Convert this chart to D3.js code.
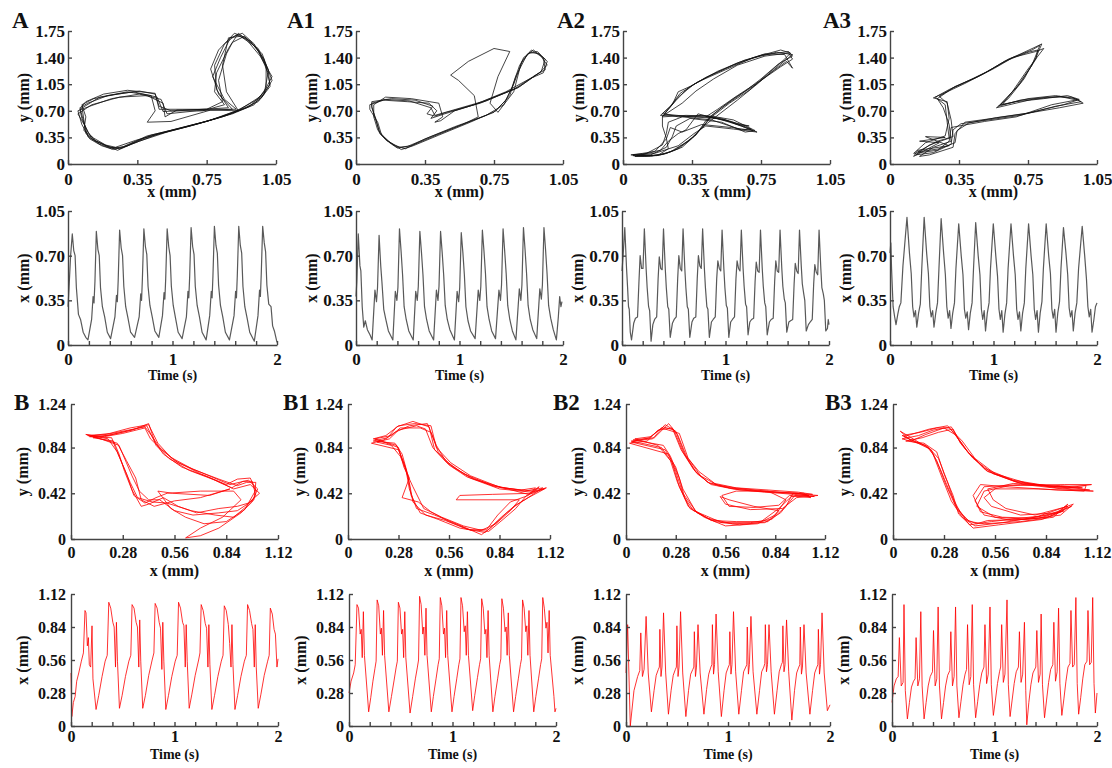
<!DOCTYPE html>
<html>
<head>
<meta charset="utf-8">
<script src="https://cdn.jsdelivr.net/npm/d3@7"></script>
<style>
  body { margin: 0; background: #fff; }
  svg text { font-family: "Liberation Serif", "Times New Roman", serif; font-weight: bold; fill: #111; }
  .axis path, .axis line { stroke: #444; stroke-width: 1.4; }
</style>
</head>
<body>
<svg id="fig" width="1112" height="768"></svg>
<script>
// ---- tick values and labels ----
const aTrajXTicks = [0, 0.35, 0.70, 1.05];
const aTrajXLabels = ["0", "0.35", "0.75", "1.05"];
const aTrajYTicks = [0, 0.35, 0.70, 1.05, 1.40, 1.75];
const aTrajYLabels = ["0", "0.35", "0.70", "1.05", "1.40", "1.75"];
const aTimeYTicks = [0, 0.35, 0.70, 1.05];
const aTimeYLabels = ["0", "0.35", "0.70", "1.05"];
const bTrajXTicks = [0, 0.28, 0.56, 0.84, 1.12];
const bTrajXLabels = ["0", "0.28", "0.56", "0.84", "1.12"];
const bTrajYTicks = [0, 0.42, 0.84, 1.24];
const bTrajYLabels = ["0", "0.42", "0.84", "1.24"];
const bTimeYTicks = [0, 0.28, 0.56, 0.84, 1.12];
const bTimeYLabels = ["0", "0.28", "0.56", "0.84", "1.12"];
const timeTicks = [0, 0.2, 0.4, 0.6, 0.8, 1, 1.2, 1.4, 1.6, 1.8, 2];
const timeLabels = ["0", "", "", "", "", "1", "", "", "", "", "2"];

// ---- trajectories (x mm, y mm), a few cycles each ----
const trajA = [
  [[0.06,0.74],[0.08,0.55],[0.10,0.36],[0.16,0.26],[0.22,0.20],[0.28,0.23],[0.40,0.37],[0.55,0.46],[0.70,0.56],[0.84,0.68],[0.96,0.82],[1.02,1.05],[0.99,1.38],[0.92,1.62],[0.85,1.70],[0.79,1.58],[0.74,1.30],[0.75,0.98],[0.81,0.74],[0.62,0.71],[0.48,0.69],[0.45,0.88],[0.33,0.95],[0.20,0.90],[0.10,0.80],[0.06,0.74]],
  [[0.05,0.70],[0.07,0.52],[0.11,0.33],[0.17,0.24],[0.23,0.19],[0.30,0.24],[0.42,0.38],[0.56,0.47],[0.71,0.57],[0.85,0.70],[0.98,0.88],[1.03,1.10],[0.98,1.45],[0.90,1.66],[0.84,1.72],[0.76,1.50],[0.72,1.25],[0.76,0.92],[0.83,0.72],[0.65,0.70],[0.50,0.66],[0.47,0.85],[0.36,0.92],[0.22,0.86],[0.11,0.76],[0.05,0.70]],
  [[0.07,0.76],[0.08,0.58],[0.09,0.40],[0.14,0.30],[0.21,0.22],[0.27,0.21],[0.38,0.34],[0.53,0.45],[0.68,0.55],[0.83,0.66],[0.94,0.78],[1.00,1.00],[1.00,1.30],[0.94,1.58],[0.88,1.72],[0.82,1.66],[0.77,1.40],[0.73,1.15],[0.79,0.85],[0.85,0.72],[0.58,0.72],[0.46,0.72],[0.44,0.93],[0.30,0.97],[0.18,0.92],[0.09,0.82],[0.07,0.76]],
  [[0.05,0.66],[0.09,0.48],[0.12,0.33],[0.18,0.26],[0.25,0.18],[0.32,0.26],[0.45,0.39],[0.60,0.49],[0.75,0.60],[0.87,0.72],[0.99,0.92],[1.01,1.20],[0.96,1.50],[0.89,1.68],[0.83,1.60],[0.80,1.45],[0.76,1.10],[0.78,0.82],[0.70,0.72],[0.55,0.71],[0.49,0.62],[0.48,0.80],[0.40,0.90],[0.26,0.88],[0.12,0.78],[0.05,0.66]],
  [[0.06,0.72],[0.07,0.60],[0.10,0.42],[0.14,0.30],[0.20,0.23],[0.26,0.20],[0.36,0.30],[0.50,0.42],[0.66,0.53],[0.80,0.64],[0.90,0.74],[0.97,0.85],[1.02,1.02],[1.01,1.25],[0.96,1.52],[0.87,1.68],[0.81,1.66],[0.78,1.30],[0.80,0.95],[0.86,0.70],[0.72,0.71],[0.52,0.56],[0.40,0.55],[0.44,0.70],[0.42,0.90],[0.30,0.95],[0.16,0.88],[0.06,0.72]],
  [[0.07,0.78],[0.09,0.62],[0.08,0.44],[0.13,0.34],[0.19,0.25],[0.24,0.22],[0.34,0.31],[0.48,0.41],[0.63,0.51],[0.78,0.62],[0.92,0.76],[0.99,0.95],[1.03,1.15],[0.97,1.42],[0.90,1.64],[0.86,1.72],[0.81,1.52],[0.75,1.20],[0.74,0.95],[0.79,0.78],[0.68,0.70],[0.52,0.70],[0.46,0.76],[0.44,0.92],[0.36,0.96],[0.25,0.92],[0.13,0.86],[0.07,0.78]]
];
const trajA1 = [
  [[0.08,0.76],[0.10,0.58],[0.12,0.42],[0.17,0.28],[0.21,0.21],[0.26,0.23],[0.38,0.36],[0.54,0.52],[0.70,0.68],[0.76,0.84],[0.80,1.05],[0.85,1.40],[0.90,1.50],[0.95,1.40],[0.96,1.24],[0.91,1.17],[0.80,0.98],[0.63,0.80],[0.46,0.68],[0.40,0.63],[0.36,0.66],[0.39,0.76],[0.30,0.84],[0.18,0.86],[0.08,0.82],[0.08,0.76]],
  [[0.07,0.72],[0.11,0.55],[0.13,0.38],[0.19,0.25],[0.23,0.19],[0.29,0.24],[0.42,0.38],[0.58,0.55],[0.71,0.70],[0.78,0.90],[0.81,1.15],[0.87,1.45],[0.92,1.48],[0.97,1.35],[0.95,1.20],[0.88,1.12],[0.76,0.95],[0.60,0.78],[0.45,0.66],[0.38,0.60],[0.41,0.70],[0.37,0.80],[0.26,0.82],[0.14,0.84],[0.07,0.78],[0.07,0.72]],
  [[0.09,0.78],[0.09,0.62],[0.11,0.45],[0.15,0.32],[0.20,0.24],[0.25,0.20],[0.35,0.33],[0.50,0.49],[0.66,0.64],[0.75,0.78],[0.79,1.00],[0.83,1.30],[0.88,1.47],[0.93,1.45],[0.97,1.30],[0.93,1.20],[0.83,1.02],[0.66,0.83],[0.50,0.70],[0.43,0.57],[0.40,0.55],[0.44,0.62],[0.42,0.80],[0.28,0.86],[0.15,0.88],[0.09,0.78]],
  [[0.08,0.74],[0.10,0.60],[0.12,0.40],[0.16,0.30],[0.22,0.22],[0.28,0.24],[0.40,0.37],[0.55,0.53],[0.62,0.62],[0.60,0.90],[0.52,1.10],[0.48,1.17],[0.57,1.35],[0.70,1.52],[0.78,1.48],[0.72,1.15],[0.68,0.80],[0.72,0.68],[0.80,0.95],[0.84,1.35],[0.89,1.50],[0.96,1.38],[0.94,1.22],[0.82,1.00],[0.64,0.82],[0.48,0.70],[0.40,0.64],[0.38,0.74],[0.27,0.83],[0.15,0.85],[0.08,0.80],[0.08,0.74]]
];
const trajA2 = [
  [[0.05,0.12],[0.12,0.11],[0.19,0.12],[0.26,0.18],[0.33,0.30],[0.38,0.42],[0.44,0.60],[0.54,0.80],[0.64,0.97],[0.74,1.20],[0.82,1.38],[0.85,1.46],[0.80,1.50],[0.66,1.40],[0.52,1.24],[0.38,1.08],[0.29,0.93],[0.24,0.76],[0.19,0.64],[0.30,0.63],[0.44,0.62],[0.55,0.56],[0.65,0.46],[0.60,0.45],[0.45,0.58],[0.30,0.62],[0.23,0.55],[0.22,0.40],[0.20,0.25],[0.12,0.14],[0.05,0.12]],
  [[0.06,0.10],[0.14,0.10],[0.21,0.13],[0.28,0.20],[0.35,0.34],[0.40,0.48],[0.47,0.62],[0.58,0.84],[0.68,1.05],[0.77,1.25],[0.84,1.40],[0.86,1.44],[0.78,1.47],[0.62,1.37],[0.48,1.22],[0.36,1.05],[0.28,0.88],[0.23,0.72],[0.20,0.62],[0.32,0.64],[0.45,0.63],[0.56,0.58],[0.67,0.44],[0.62,0.42],[0.50,0.55],[0.34,0.60],[0.27,0.50],[0.25,0.36],[0.22,0.22],[0.14,0.12],[0.06,0.10]],
  [[0.04,0.12],[0.10,0.12],[0.17,0.11],[0.24,0.16],[0.31,0.27],[0.37,0.38],[0.42,0.57],[0.50,0.74],[0.60,0.92],[0.70,1.12],[0.79,1.32],[0.86,1.42],[0.84,1.48],[0.70,1.43],[0.56,1.30],[0.42,1.14],[0.33,1.00],[0.27,0.84],[0.21,0.66],[0.28,0.62],[0.40,0.64],[0.50,0.60],[0.58,0.52],[0.64,0.50],[0.50,0.58],[0.38,0.66],[0.32,0.45],[0.28,0.40],[0.23,0.30],[0.19,0.18],[0.10,0.14],[0.04,0.12]],
  [[0.07,0.11],[0.15,0.11],[0.22,0.14],[0.30,0.22],[0.36,0.36],[0.41,0.50],[0.45,0.64],[0.56,0.86],[0.66,1.02],[0.76,1.22],[0.83,1.35],[0.86,1.26],[0.82,1.44],[0.72,1.45],[0.58,1.33],[0.44,1.16],[0.34,1.02],[0.28,0.95],[0.25,0.78],[0.20,0.66],[0.35,0.62],[0.48,0.60],[0.60,0.50],[0.66,0.44],[0.55,0.48],[0.40,0.52],[0.30,0.42],[0.24,0.48],[0.22,0.33],[0.16,0.16],[0.07,0.11]],
  [[0.05,0.11],[0.11,0.10],[0.18,0.12],[0.23,0.20],[0.22,0.34],[0.20,0.50],[0.20,0.63],[0.30,0.80],[0.37,0.96],[0.46,1.12],[0.58,1.30],[0.72,1.42],[0.84,1.46],[0.86,1.38],[0.80,1.28],[0.70,1.10],[0.58,0.90],[0.48,0.72],[0.42,0.62],[0.52,0.58],[0.62,0.48],[0.68,0.42],[0.56,0.46],[0.42,0.50],[0.36,0.40],[0.28,0.24],[0.16,0.14],[0.05,0.11]]
];
const trajA3 = [
  [[0.13,0.12],[0.20,0.25],[0.30,0.34],[0.29,0.55],[0.28,0.78],[0.23,0.88],[0.30,0.98],[0.40,1.10],[0.49,1.21],[0.60,1.38],[0.72,1.50],[0.76,1.56],[0.72,1.30],[0.64,1.00],[0.55,0.76],[0.66,0.84],[0.80,0.88],[0.92,0.88],[0.97,0.82],[0.84,0.76],[0.66,0.64],[0.50,0.58],[0.36,0.53],[0.32,0.45],[0.31,0.26],[0.22,0.15],[0.13,0.12]],
  [[0.15,0.10],[0.22,0.22],[0.31,0.30],[0.30,0.52],[0.27,0.74],[0.24,0.86],[0.32,1.00],[0.42,1.12],[0.51,1.24],[0.62,1.40],[0.74,1.48],[0.78,1.52],[0.70,1.25],[0.62,0.95],[0.57,0.78],[0.70,0.86],[0.84,0.90],[0.94,0.86],[0.98,0.80],[0.86,0.74],[0.68,0.66],[0.52,0.60],[0.38,0.55],[0.33,0.40],[0.32,0.22],[0.20,0.12],[0.15,0.10]],
  [[0.12,0.14],[0.18,0.28],[0.28,0.37],[0.30,0.60],[0.29,0.82],[0.22,0.87],[0.29,0.95],[0.38,1.06],[0.47,1.18],[0.58,1.35],[0.70,1.47],[0.75,1.50],[0.74,1.38],[0.66,1.06],[0.56,0.78],[0.64,0.82],[0.78,0.86],[0.90,0.90],[0.96,0.85],[0.82,0.78],[0.64,0.62],[0.48,0.56],[0.35,0.50],[0.31,0.48],[0.30,0.30],[0.24,0.18],[0.12,0.14]],
  [[0.14,0.16],[0.24,0.30],[0.32,0.36],[0.31,0.58],[0.29,0.80],[0.25,0.89],[0.33,1.02],[0.44,1.14],[0.53,1.26],[0.63,1.41],[0.73,1.53],[0.77,1.58],[0.74,1.40],[0.68,1.12],[0.60,0.86],[0.54,0.74],[0.72,0.85],[0.86,0.89],[0.95,0.84],[0.88,0.78],[0.70,0.67],[0.54,0.61],[0.40,0.54],[0.34,0.44],[0.33,0.28],[0.25,0.20],[0.14,0.16]],
  [[0.12,0.10],[0.25,0.28],[0.15,0.30],[0.28,0.35],[0.18,0.36],[0.30,0.24],[0.14,0.18],[0.12,0.10]]
];
const trajB = [
  [[0.10,0.94],[0.20,0.95],[0.30,0.99],[0.41,1.04],[0.45,0.90],[0.50,0.78],[0.60,0.66],[0.74,0.57],[0.87,0.47],[0.93,0.53],[0.98,0.53],[1.00,0.40],[0.95,0.30],[0.88,0.20],[0.78,0.22],[0.65,0.26],[0.52,0.33],[0.44,0.34],[0.36,0.38],[0.32,0.52],[0.28,0.68],[0.24,0.84],[0.22,0.93],[0.10,0.94]],
  [[0.08,0.96],[0.18,0.94],[0.28,0.97],[0.40,1.02],[0.43,0.92],[0.49,0.82],[0.58,0.70],[0.72,0.60],[0.86,0.50],[0.96,0.54],[1.01,0.46],[0.98,0.34],[0.92,0.24],[0.80,0.10],[0.70,0.03],[0.62,0.01],[0.70,0.10],[0.82,0.20],[0.92,0.36],[0.88,0.44],[0.70,0.44],[0.52,0.42],[0.46,0.38],[0.40,0.33],[0.34,0.40],[0.30,0.60],[0.25,0.80],[0.20,0.92],[0.08,0.96]],
  [[0.12,0.93],[0.22,0.96],[0.33,1.00],[0.42,1.06],[0.46,0.86],[0.53,0.74],[0.64,0.63],[0.78,0.54],[0.88,0.46],[0.97,0.50],[1.02,0.42],[0.96,0.33],[0.90,0.30],[0.80,0.28],[0.68,0.24],[0.58,0.30],[0.50,0.38],[0.42,0.32],[0.38,0.30],[0.33,0.45],[0.29,0.62],[0.26,0.78],[0.23,0.90],[0.12,0.93]],
  [[0.09,0.95],[0.19,0.96],[0.31,1.00],[0.40,1.03],[0.44,0.94],[0.48,0.84],[0.56,0.72],[0.70,0.60],[0.84,0.50],[0.90,0.55],[0.97,0.56],[1.00,0.45],[0.94,0.27],[0.84,0.16],[0.72,0.14],[0.62,0.20],[0.54,0.28],[0.47,0.44],[0.55,0.42],[0.75,0.40],[0.86,0.46],[0.70,0.38],[0.56,0.35],[0.45,0.30],[0.38,0.36],[0.35,0.56],[0.30,0.72],[0.25,0.88],[0.09,0.95]],
  [[0.11,0.95],[0.21,0.97],[0.32,1.02],[0.42,1.05],[0.47,0.88],[0.54,0.75],[0.66,0.64],[0.80,0.55],[0.90,0.49],[0.95,0.52],[1.00,0.52],[0.99,0.36],[0.90,0.26],[0.80,0.24],[0.66,0.22],[0.56,0.26],[0.48,0.36],[0.42,0.36],[0.37,0.44],[0.33,0.58],[0.30,0.70],[0.26,0.86],[0.11,0.95]]
];
const trajB1 = [
  [[0.14,0.90],[0.22,0.93],[0.27,1.03],[0.36,1.08],[0.45,1.03],[0.48,0.82],[0.56,0.68],[0.66,0.57],[0.84,0.46],[1.02,0.43],[1.09,0.46],[1.00,0.38],[0.92,0.30],[0.85,0.20],[0.76,0.06],[0.62,0.10],[0.50,0.18],[0.40,0.24],[0.35,0.40],[0.33,0.60],[0.30,0.78],[0.26,0.88],[0.14,0.90]],
  [[0.15,0.92],[0.24,0.95],[0.29,1.02],[0.40,1.02],[0.46,0.98],[0.50,0.80],[0.58,0.66],[0.70,0.55],[0.86,0.47],[1.00,0.41],[1.06,0.48],[1.02,0.42],[0.80,0.41],[0.62,0.40],[0.60,0.36],[0.95,0.36],[0.90,0.26],[0.82,0.14],[0.74,0.08],[0.64,0.12],[0.52,0.20],[0.42,0.28],[0.36,0.48],[0.31,0.66],[0.28,0.84],[0.15,0.92]],
  [[0.13,0.88],[0.20,0.91],[0.26,0.98],[0.34,1.04],[0.44,1.06],[0.49,0.86],[0.54,0.72],[0.64,0.60],[0.80,0.49],[0.98,0.44],[1.08,0.47],[0.98,0.36],[0.94,0.32],[0.88,0.24],[0.79,0.10],[0.74,0.04],[0.60,0.14],[0.48,0.22],[0.38,0.28],[0.34,0.46],[0.32,0.65],[0.28,0.82],[0.13,0.88]],
  [[0.16,0.89],[0.23,0.92],[0.28,1.00],[0.38,1.04],[0.43,1.01],[0.47,0.84],[0.55,0.70],[0.68,0.56],[0.82,0.48],[0.96,0.45],[1.04,0.47],[1.00,0.40],[0.90,0.34],[0.83,0.22],[0.77,0.09],[0.68,0.08],[0.56,0.16],[0.46,0.25],[0.39,0.34],[0.30,0.38],[0.34,0.56],[0.29,0.76],[0.24,0.86],[0.16,0.89]],
  [[0.14,0.92],[0.21,0.95],[0.28,1.04],[0.37,1.06],[0.46,1.04],[0.49,0.84],[0.57,0.70],[0.68,0.58],[0.85,0.47],[1.03,0.44],[1.10,0.47],[0.99,0.40],[0.93,0.28],[0.86,0.18],[0.78,0.07],[0.66,0.09],[0.54,0.17],[0.43,0.22],[0.36,0.34],[0.34,0.52],[0.31,0.70],[0.27,0.86],[0.14,0.92]]
];
const trajB2 = [
  [[0.03,0.90],[0.15,0.92],[0.22,1.05],[0.28,0.99],[0.33,0.78],[0.40,0.60],[0.48,0.50],[0.60,0.46],[0.78,0.43],[0.95,0.41],[1.06,0.39],[0.95,0.40],[0.87,0.24],[0.78,0.15],[0.60,0.14],[0.46,0.19],[0.36,0.28],[0.30,0.48],[0.26,0.70],[0.20,0.84],[0.03,0.90]],
  [[0.05,0.92],[0.14,0.94],[0.20,1.02],[0.30,0.97],[0.35,0.74],[0.42,0.58],[0.52,0.49],[0.64,0.45],[0.82,0.43],[1.00,0.42],[1.04,0.38],[0.92,0.40],[0.86,0.31],[0.72,0.29],[0.58,0.30],[0.54,0.40],[0.62,0.44],[0.80,0.44],[0.90,0.36],[0.84,0.22],[0.74,0.14],[0.56,0.12],[0.44,0.20],[0.35,0.30],[0.29,0.52],[0.25,0.72],[0.18,0.86],[0.05,0.92]],
  [[0.02,0.88],[0.12,0.90],[0.18,1.00],[0.26,1.02],[0.31,0.82],[0.38,0.64],[0.46,0.52],[0.58,0.47],[0.76,0.44],[0.92,0.42],[1.08,0.40],[0.96,0.38],[0.88,0.28],[0.70,0.27],[0.56,0.32],[0.53,0.39],[0.58,0.36],[0.72,0.30],[0.86,0.26],[0.80,0.16],[0.64,0.13],[0.50,0.16],[0.40,0.24],[0.32,0.42],[0.28,0.62],[0.24,0.78],[0.02,0.88]],
  [[0.04,0.91],[0.16,0.93],[0.24,1.06],[0.29,0.96],[0.34,0.76],[0.41,0.62],[0.50,0.51],[0.62,0.47],[0.80,0.45],[0.97,0.43],[1.05,0.41],[0.94,0.42],[0.90,0.30],[0.82,0.18],[0.70,0.15],[0.54,0.15],[0.44,0.22],[0.38,0.26],[0.33,0.38],[0.30,0.56],[0.25,0.76],[0.21,0.86],[0.04,0.91]],
  [[0.03,0.89],[0.13,0.93],[0.21,1.03],[0.27,1.00],[0.32,0.80],[0.39,0.62],[0.47,0.51],[0.61,0.47],[0.79,0.44],[0.96,0.42],[1.03,0.40],[0.93,0.39],[0.86,0.28],[0.76,0.16],[0.62,0.16],[0.48,0.17],[0.39,0.26],[0.32,0.46],[0.28,0.66],[0.22,0.82],[0.03,0.89]]
];
const trajB3 = [
  [[0.05,0.92],[0.14,0.95],[0.22,1.00],[0.32,1.03],[0.36,0.92],[0.42,0.78],[0.52,0.62],[0.68,0.52],[0.90,0.47],[1.08,0.45],[0.95,0.48],[0.70,0.50],[0.50,0.48],[0.45,0.35],[0.50,0.22],[0.65,0.17],[0.85,0.20],[0.98,0.30],[0.85,0.22],[0.60,0.15],[0.45,0.12],[0.38,0.20],[0.32,0.35],[0.27,0.56],[0.22,0.78],[0.18,0.86],[0.05,0.92]],
  [[0.04,0.99],[0.10,0.90],[0.18,0.96],[0.28,1.02],[0.34,0.96],[0.40,0.82],[0.50,0.65],[0.66,0.54],[0.88,0.48],[1.06,0.49],[1.05,0.44],[0.80,0.46],[0.56,0.46],[0.50,0.38],[0.54,0.30],[0.70,0.22],[0.90,0.24],[0.96,0.32],[0.88,0.20],[0.70,0.16],[0.50,0.14],[0.42,0.16],[0.35,0.28],[0.29,0.50],[0.24,0.72],[0.20,0.83],[0.04,0.99]],
  [[0.07,0.90],[0.16,0.93],[0.25,0.98],[0.33,1.01],[0.37,0.88],[0.44,0.74],[0.55,0.60],[0.72,0.50],[0.93,0.46],[1.10,0.44],[0.90,0.45],[0.62,0.48],[0.48,0.50],[0.44,0.40],[0.48,0.25],[0.60,0.20],[0.80,0.19],[0.94,0.26],[0.82,0.18],[0.58,0.13],[0.44,0.10],[0.36,0.23],[0.33,0.40],[0.28,0.60],[0.24,0.80],[0.17,0.88],[0.07,0.90]],
  [[0.06,0.94],[0.12,0.97],[0.20,1.01],[0.30,1.04],[0.35,0.94],[0.41,0.80],[0.51,0.63],[0.67,0.53],[0.86,0.48],[1.04,0.47],[0.92,0.49],[0.66,0.51],[0.52,0.46],[0.55,0.36],[0.62,0.28],[0.78,0.22],[0.96,0.30],[0.92,0.25],[0.72,0.18],[0.52,0.17],[0.46,0.14],[0.40,0.18],[0.34,0.32],[0.30,0.52],[0.25,0.74],[0.19,0.85],[0.06,0.94]],
  [[0.05,0.95],[0.15,0.98],[0.24,1.02],[0.31,1.02],[0.38,0.90],[0.45,0.74],[0.56,0.60],[0.74,0.51],[0.96,0.47],[1.09,0.50],[0.94,0.50],[0.64,0.49],[0.50,0.44],[0.46,0.30],[0.56,0.20],[0.74,0.18],[0.92,0.22],[0.99,0.32],[0.80,0.21],[0.54,0.16],[0.42,0.13],[0.37,0.24],[0.31,0.44],[0.26,0.64],[0.21,0.82],[0.05,0.95]]
];

// ---- x position over time (s, mm) ----
const timeA = [[0,0.30],[0.01,0.45],[0.025,0.70],[0.041,0.87],[0.055,0.74],[0.068,0.70],[0.08,0.45],[0.10,0.24],[0.12,0.20],[0.145,0.10],[0.17,0.06],[0.191,0.04],
  [0.226,0.20],[0.24,0.38],[0.249,0.33],[0.258,0.50],[0.271,0.89],[0.286,0.75],[0.299,0.70],[0.311,0.45],[0.329,0.30],[0.351,0.22],[0.376,0.10],[0.408,0.05],
  [0.449,0.22],[0.464,0.39],[0.472,0.34],[0.48,0.50],[0.494,0.90],[0.509,0.76],[0.522,0.70],[0.534,0.46],[0.552,0.30],[0.574,0.21],[0.599,0.10],[0.637,0.06],
  [0.681,0.22],[0.696,0.40],[0.704,0.35],[0.712,0.52],[0.726,0.91],[0.741,0.77],[0.754,0.71],[0.766,0.46],[0.784,0.31],[0.806,0.22],[0.831,0.11],[0.869,0.06],
  [0.904,0.23],[0.919,0.41],[0.927,0.36],[0.935,0.52],[0.949,0.91],[0.964,0.77],[0.977,0.70],[0.989,0.46],[1.007,0.31],[1.029,0.21],[1.054,0.10],[1.092,0.05],
  [1.133,0.22],[1.148,0.42],[1.156,0.37],[1.164,0.53],[1.178,0.92],[1.193,0.77],[1.206,0.71],[1.218,0.46],[1.236,0.31],[1.258,0.22],[1.283,0.10],[1.322,0.04],
  [1.356,0.23],[1.371,0.42],[1.379,0.37],[1.387,0.54],[1.401,0.93],[1.416,0.78],[1.429,0.72],[1.441,0.47],[1.459,0.31],[1.481,0.22],[1.506,0.10],[1.545,0.04],
  [1.589,0.23],[1.604,0.42],[1.612,0.37],[1.62,0.54],[1.634,0.93],[1.649,0.78],[1.662,0.72],[1.674,0.46],[1.692,0.30],[1.714,0.21],[1.739,0.10],[1.783,0.03],
  [1.818,0.23],[1.833,0.43],[1.841,0.38],[1.849,0.55],[1.863,0.93],[1.878,0.80],[1.891,0.73],[1.903,0.47],[1.921,0.32],[1.943,0.30],[1.958,0.15],[1.975,0.11],[2.0,0.02]];

const timeA1 = [[0,0.38],[0.008,0.50],[0.022,0.87],[0.038,0.62],[0.047,0.58],[0.06,0.30],[0.075,0.14],[0.09,0.19],[0.11,0.12],[0.135,0.08],[0.156,0.04],
  [0.183,0.43],[0.198,0.34],[0.208,0.45],[0.223,0.86],[0.239,0.62],[0.25,0.50],[0.268,0.28],[0.288,0.20],[0.313,0.11],[0.356,0.04],
  [0.38,0.42],[0.395,0.35],[0.405,0.45],[0.42,0.91],[0.436,0.73],[0.45,0.55],[0.465,0.30],[0.485,0.20],[0.51,0.11],[0.553,0.04],
  [0.577,0.42],[0.592,0.35],[0.602,0.46],[0.617,0.89],[0.633,0.72],[0.647,0.55],[0.662,0.30],[0.682,0.20],[0.707,0.11],[0.75,0.04],
  [0.777,0.43],[0.792,0.35],[0.802,0.46],[0.817,0.89],[0.833,0.72],[0.847,0.55],[0.862,0.31],[0.882,0.20],[0.907,0.12],[0.951,0.04],
  [0.977,0.42],[0.992,0.34],[1.002,0.45],[1.017,0.88],[1.033,0.72],[1.047,0.55],[1.062,0.30],[1.082,0.19],[1.107,0.11],[1.151,0.05],
  [1.181,0.43],[1.196,0.35],[1.206,0.46],[1.221,0.90],[1.237,0.73],[1.251,0.56],[1.266,0.30],[1.286,0.20],[1.311,0.11],[1.348,0.05],
  [1.381,0.43],[1.396,0.35],[1.406,0.47],[1.421,0.91],[1.437,0.73],[1.451,0.56],[1.466,0.31],[1.486,0.20],[1.511,0.11],[1.545,0.04],
  [1.578,0.44],[1.593,0.35],[1.603,0.47],[1.618,0.92],[1.634,0.74],[1.648,0.56],[1.663,0.31],[1.683,0.20],[1.708,0.12],[1.746,0.05],
  [1.776,0.44],[1.791,0.36],[1.801,0.47],[1.816,0.92],[1.832,0.74],[1.846,0.56],[1.861,0.31],[1.881,0.21],[1.906,0.12],[1.936,0.04],[1.955,0.22],[1.968,0.38],[1.98,0.30],[1.99,0.34]];

const timeA2 = [[0,0.58],[0.012,0.72],[0.027,0.92],[0.044,0.60],[0.054,0.45],[0.063,0.30],[0.07,0.28],[0.08,0.10],[0.092,0.04],
  [0.113,0.17],[0.13,0.21],[0.15,0.22],[0.164,0.50],[0.175,0.70],[0.189,0.60],[0.203,0.60],[0.216,0.91],[0.233,0.60],[0.243,0.45],[0.257,0.30],[0.267,0.27],[0.281,0.03],
  [0.298,0.16],[0.315,0.20],[0.335,0.22],[0.349,0.52],[0.36,0.69],[0.374,0.60],[0.388,0.59],[0.401,0.91],[0.418,0.60],[0.428,0.45],[0.442,0.30],[0.452,0.28],[0.466,0.06],
  [0.487,0.17],[0.504,0.20],[0.524,0.22],[0.538,0.52],[0.549,0.70],[0.563,0.60],[0.577,0.58],[0.59,0.91],[0.607,0.60],[0.617,0.45],[0.631,0.30],[0.641,0.28],[0.655,0.06],
  [0.676,0.18],[0.693,0.21],[0.713,0.22],[0.727,0.52],[0.738,0.70],[0.752,0.62],[0.766,0.60],[0.779,0.91],[0.796,0.60],[0.806,0.45],[0.82,0.30],[0.83,0.28],[0.844,0.06],
  [0.864,0.18],[0.881,0.20],[0.901,0.22],[0.915,0.52],[0.926,0.66],[0.94,0.60],[0.954,0.58],[0.967,0.90],[0.984,0.60],[0.994,0.45],[1.008,0.31],[1.018,0.29],[1.032,0.06],
  [1.05,0.18],[1.067,0.20],[1.087,0.22],[1.101,0.52],[1.112,0.66],[1.126,0.60],[1.14,0.58],[1.153,0.90],[1.17,0.60],[1.18,0.46],[1.194,0.32],[1.204,0.30],[1.218,0.08],
  [1.235,0.18],[1.252,0.20],[1.272,0.21],[1.286,0.50],[1.297,0.65],[1.311,0.58],[1.325,0.57],[1.338,0.90],[1.355,0.60],[1.365,0.46],[1.379,0.33],[1.389,0.30],[1.403,0.08],
  [1.424,0.18],[1.441,0.20],[1.461,0.21],[1.475,0.50],[1.486,0.66],[1.50,0.58],[1.514,0.57],[1.527,0.90],[1.544,0.60],[1.554,0.46],[1.568,0.36],[1.578,0.33],[1.592,0.10],
  [1.612,0.18],[1.629,0.19],[1.649,0.20],[1.663,0.48],[1.674,0.64],[1.688,0.58],[1.702,0.56],[1.715,0.90],[1.732,0.62],[1.742,0.48],[1.756,0.40],[1.766,0.35],[1.78,0.11],
  [1.801,0.16],[1.818,0.18],[1.838,0.20],[1.852,0.48],[1.863,0.63],[1.877,0.57],[1.891,0.55],[1.904,0.90],[1.921,0.60],[1.931,0.45],[1.945,0.40],[1.955,0.35],[1.969,0.11],[1.985,0.13],[1.993,0.20],[2.0,0.16]];

const timeA3 = [[0,0.72],[0.008,0.80],[0.015,0.60],[0.03,0.30],[0.045,0.22],[0.058,0.16],[0.075,0.24],[0.09,0.30],[0.105,0.33],[0.125,0.62],
  [0.164,1.00],[0.188,0.72],[0.205,0.56],[0.219,0.30],[0.232,0.22],[0.246,0.27],[0.259,0.14],[0.276,0.25],[0.293,0.32],[0.307,0.60],
  [0.33,1.00],[0.354,0.72],[0.371,0.56],[0.385,0.30],[0.398,0.22],[0.412,0.27],[0.425,0.14],[0.442,0.25],[0.459,0.33],[0.473,0.60],
  [0.494,0.99],[0.518,0.72],[0.535,0.55],[0.549,0.30],[0.562,0.21],[0.576,0.27],[0.589,0.13],[0.606,0.25],[0.623,0.33],[0.637,0.60],
  [0.664,0.95],[0.688,0.70],[0.705,0.55],[0.719,0.28],[0.732,0.21],[0.746,0.26],[0.759,0.12],[0.776,0.25],[0.793,0.33],[0.807,0.60],
  [0.828,0.96],[0.852,0.70],[0.869,0.55],[0.883,0.28],[0.896,0.20],[0.91,0.27],[0.923,0.11],[0.94,0.25],[0.957,0.33],[0.971,0.60],
  [0.998,0.95],[1.022,0.70],[1.039,0.54],[1.053,0.28],[1.066,0.20],[1.08,0.27],[1.093,0.10],[1.11,0.24],[1.127,0.33],[1.141,0.60],
  [1.169,0.95],[1.193,0.70],[1.21,0.55],[1.224,0.28],[1.237,0.20],[1.251,0.26],[1.264,0.11],[1.281,0.25],[1.298,0.33],[1.312,0.60],
  [1.339,0.95],[1.363,0.70],[1.38,0.55],[1.394,0.28],[1.407,0.20],[1.421,0.27],[1.434,0.10],[1.451,0.25],[1.468,0.34],[1.482,0.60],
  [1.509,0.95],[1.533,0.70],[1.55,0.56],[1.564,0.28],[1.577,0.21],[1.591,0.28],[1.604,0.10],[1.621,0.25],[1.638,0.34],[1.652,0.60],
  [1.676,0.92],[1.70,0.72],[1.717,0.55],[1.731,0.29],[1.744,0.22],[1.758,0.27],[1.771,0.11],[1.788,0.25],[1.805,0.33],[1.822,0.60],
  [1.857,0.93],[1.881,0.70],[1.898,0.52],[1.912,0.30],[1.925,0.22],[1.939,0.28],[1.952,0.10],[1.97,0.20],[1.985,0.30],[2.0,0.33]];

const timeB = [[0,0.45],[0.008,0.08],[0.023,0.20],[0.04,0.25],[0.055,0.38],[0.075,0.45],[0.10,0.55],[0.12,0.62],
  [0.135,0.98],[0.145,0.96],[0.158,0.68],[0.168,0.75],[0.177,0.52],[0.19,0.50],[0.203,0.85],[0.212,0.40],[0.242,0.14],[0.268,0.26],[0.30,0.42],[0.33,0.55],[0.35,0.60],
  [0.365,1.05],[0.384,1.00],[0.404,0.88],[0.417,0.84],[0.43,0.50],[0.439,0.88],[0.449,0.55],[0.468,0.15],[0.494,0.26],[0.526,0.42],[0.559,0.55],[0.578,0.60],
  [0.59,1.03],[0.609,1.00],[0.629,0.88],[0.642,0.84],[0.655,0.50],[0.664,0.90],[0.674,0.55],[0.693,0.15],[0.719,0.26],[0.751,0.43],[0.784,0.56],[0.801,0.62],
  [0.813,1.04],[0.832,1.00],[0.852,0.88],[0.865,0.83],[0.878,0.48],[0.887,0.88],[0.897,0.55],[0.916,0.14],[0.942,0.26],[0.974,0.42],[1.007,0.55],[1.026,0.60],
  [1.039,1.05],[1.058,1.00],[1.078,0.88],[1.091,0.85],[1.104,0.50],[1.113,0.86],[1.123,0.55],[1.142,0.15],[1.168,0.27],[1.20,0.43],[1.233,0.56],[1.246,0.62],
  [1.258,1.03],[1.277,0.98],[1.297,0.87],[1.31,0.83],[1.323,0.50],[1.332,0.86],[1.342,0.52],[1.361,0.14],[1.387,0.26],[1.419,0.42],[1.452,0.55],[1.469,0.60],
  [1.481,1.02],[1.50,0.98],[1.52,0.86],[1.533,0.70],[1.546,0.50],[1.555,0.86],[1.565,0.52],[1.584,0.14],[1.61,0.26],[1.642,0.42],[1.675,0.55],[1.694,0.60],
  [1.706,1.03],[1.725,0.98],[1.745,0.87],[1.758,0.82],[1.771,0.50],[1.78,0.86],[1.79,0.50],[1.809,0.15],[1.835,0.27],[1.867,0.43],[1.90,0.55],[1.915,0.60],
  [1.926,1.00],[1.945,0.95],[1.962,0.82],[1.975,0.78],[1.99,0.50],[2.0,0.57]];

const timeB1 = [[0,0.28],[0.02,0.38],[0.045,0.45],[0.06,0.52],[0.077,1.03],[0.092,1.00],[0.108,0.78],[0.118,0.82],[0.128,0.58],[0.139,0.97],[0.149,0.60],[0.19,0.12],
  [0.21,0.24],[0.231,0.38],[0.251,0.49],[0.262,0.55],[0.272,1.07],[0.287,1.02],[0.303,0.78],[0.313,0.83],[0.323,0.60],[0.334,0.98],[0.344,0.60],[0.385,0.12],
  [0.41,0.25],[0.436,0.39],[0.456,0.50],[0.467,0.55],[0.477,1.05],[0.492,1.00],[0.508,0.78],[0.518,0.82],[0.528,0.58],[0.539,0.97],[0.549,0.58],[0.59,0.11],
  [0.615,0.25],[0.641,0.40],[0.661,0.50],[0.672,0.56],[0.682,1.10],[0.697,1.03],[0.713,0.78],[0.723,0.84],[0.733,0.60],[0.744,1.00],[0.754,0.60],[0.795,0.12],
  [0.815,0.25],[0.841,0.40],[0.861,0.52],[0.872,0.57],[0.882,1.09],[0.897,1.02],[0.913,0.78],[0.923,0.83],[0.933,0.58],[0.944,0.98],[0.954,0.60],[0.995,0.12],
  [1.015,0.25],[1.041,0.40],[1.061,0.52],[1.072,0.57],[1.082,1.09],[1.097,1.02],[1.113,0.80],[1.123,0.85],[1.133,0.60],[1.144,0.97],[1.154,0.60],[1.195,0.13],
  [1.215,0.26],[1.241,0.41],[1.261,0.52],[1.272,0.57],[1.282,1.08],[1.297,1.00],[1.313,0.78],[1.323,0.82],[1.333,0.58],[1.344,0.98],[1.354,0.60],[1.39,0.12],
  [1.41,0.25],[1.436,0.40],[1.456,0.52],[1.467,0.57],[1.477,1.08],[1.492,1.00],[1.508,0.80],[1.518,0.84],[1.528,0.60],[1.539,0.96],[1.549,0.60],[1.59,0.12],
  [1.61,0.25],[1.636,0.40],[1.656,0.52],[1.667,0.57],[1.677,1.07],[1.692,1.00],[1.708,0.80],[1.718,0.85],[1.728,0.60],[1.739,0.98],[1.749,0.60],[1.785,0.12],
  [1.805,0.25],[1.831,0.40],[1.851,0.52],[1.862,0.57],[1.872,1.09],[1.887,1.00],[1.903,0.83],[1.913,0.88],[1.923,0.62],[1.934,0.98],[1.944,0.60],[1.98,0.25],[1.99,0.12],[2.0,0.15]];

const timeB2 = [[0,0.45],[0.016,0.86],[0.042,0.00],[0.078,0.30],[0.114,0.42],[0.135,0.47],[0.145,0.79],[0.161,0.42],[0.177,0.48],[0.197,0.93],[0.218,0.45],[0.249,0.12],
  [0.275,0.30],[0.296,0.43],[0.317,0.48],[0.327,0.50],[0.332,0.82],[0.343,0.42],[0.353,0.50],[0.368,0.96],[0.389,0.45],[0.416,0.10],
  [0.442,0.30],[0.463,0.43],[0.484,0.48],[0.494,0.50],[0.499,0.85],[0.51,0.42],[0.52,0.50],[0.535,0.97],[0.556,0.45],[0.587,0.08],
  [0.613,0.30],[0.634,0.44],[0.655,0.48],[0.665,0.50],[0.67,0.80],[0.681,0.42],[0.691,0.50],[0.706,0.86],[0.727,0.45],[0.764,0.10],
  [0.79,0.31],[0.811,0.44],[0.832,0.50],[0.842,0.52],[0.847,0.86],[0.858,0.44],[0.868,0.52],[0.883,0.95],[0.904,0.46],[0.935,0.08],
  [0.961,0.30],[0.982,0.45],[1.003,0.50],[1.013,0.52],[1.018,0.80],[1.029,0.44],[1.039,0.52],[1.054,0.97],[1.075,0.46],[1.106,0.10],
  [1.132,0.30],[1.153,0.46],[1.174,0.50],[1.184,0.52],[1.189,0.84],[1.20,0.44],[1.21,0.52],[1.225,0.93],[1.246,0.46],[1.283,0.10],
  [1.309,0.30],[1.33,0.46],[1.351,0.50],[1.361,0.53],[1.366,0.86],[1.377,0.46],[1.387,0.52],[1.402,0.86],[1.423,0.46],[1.455,0.10],
  [1.481,0.30],[1.502,0.46],[1.523,0.52],[1.533,0.54],[1.538,0.85],[1.549,0.46],[1.559,0.52],[1.574,0.90],[1.595,0.46],[1.626,0.05],
  [1.652,0.30],[1.673,0.45],[1.694,0.50],[1.704,0.52],[1.709,0.84],[1.72,0.44],[1.73,0.50],[1.745,0.86],[1.766,0.45],[1.803,0.10],
  [1.829,0.30],[1.85,0.45],[1.871,0.50],[1.881,0.52],[1.886,0.82],[1.897,0.44],[1.907,0.52],[1.922,0.96],[1.943,0.45],[1.974,0.13],[2.0,0.18]];

const timeB3 = [[0,0.20],[0.02,0.34],[0.042,0.40],[0.06,0.42],[0.072,0.75],[0.09,0.34],[0.108,0.37],[0.117,1.03],[0.13,0.30],[0.15,0.06],
  [0.17,0.20],[0.19,0.33],[0.21,0.38],[0.225,0.40],[0.235,0.75],[0.252,0.34],[0.268,0.40],[0.281,0.97],[0.294,0.34],[0.313,0.06],
  [0.333,0.20],[0.353,0.34],[0.373,0.42],[0.395,0.46],[0.405,0.81],[0.421,0.34],[0.437,0.40],[0.45,1.01],[0.463,0.34],[0.483,0.06],
  [0.503,0.20],[0.523,0.34],[0.543,0.43],[0.564,0.47],[0.574,0.80],[0.59,0.34],[0.606,0.42],[0.62,1.01],[0.633,0.34],[0.653,0.07],
  [0.673,0.21],[0.693,0.35],[0.713,0.44],[0.727,0.48],[0.737,0.86],[0.753,0.35],[0.769,0.42],[0.783,1.03],[0.796,0.35],[0.816,0.07],
  [0.836,0.21],[0.856,0.35],[0.876,0.45],[0.897,0.50],[0.907,0.86],[0.923,0.36],[0.939,0.44],[0.956,1.01],[0.969,0.35],[0.989,0.09],
  [1.009,0.22],[1.029,0.36],[1.049,0.46],[1.06,0.50],[1.07,0.86],[1.086,0.37],[1.102,0.44],[1.122,1.07],[1.135,0.35],[1.152,0.08],
  [1.172,0.22],[1.192,0.36],[1.212,0.46],[1.233,0.50],[1.243,0.80],[1.259,0.37],[1.275,0.44],[1.292,0.88],[1.305,0.30],[1.315,0.01],
  [1.335,0.20],[1.355,0.35],[1.375,0.45],[1.403,0.50],[1.413,0.81],[1.429,0.37],[1.445,0.44],[1.455,0.95],[1.468,0.35],[1.488,0.07],
  [1.508,0.22],[1.528,0.37],[1.548,0.48],[1.569,0.52],[1.579,0.88],[1.595,0.38],[1.611,0.46],[1.625,1.00],[1.638,0.36],[1.657,0.09],
  [1.677,0.23],[1.697,0.38],[1.717,0.50],[1.736,0.53],[1.746,0.98],[1.762,0.50],[1.778,0.52],[1.794,1.09],[1.807,0.36],[1.821,0.10],
  [1.841,0.24],[1.861,0.40],[1.881,0.52],[1.902,0.55],[1.912,0.98],[1.928,0.52],[1.944,0.54],[1.958,1.09],[1.971,0.36],[1.984,0.11],[2.0,0.28]];

// ---- layout ----
const BLACK = "#111", RED = "#ff0000";
const rows = {
  aTraj: {top: 31, bottom: 164, tickBase: 21, titleBase: 33, fs: 17, pad: 3, yTitleOff: 39},
  aTime: {top: 211, bottom: 345, tickBase: 20, titleBase: 35, fs: 17, pad: 3, yTitleOff: 39},
  bTraj: {top: 404, bottom: 539, tickBase: 19, titleBase: 37, fs: 16, pad: 5, yTitleOff: 43},
  bTime: {top: 594, bottom: 726, tickBase: 16, titleBase: 33, fs: 16, pad: 5, yTitleOff: 43}
};

const panels = [
  {row: "aTraj", left: 68, right: 276, data: trajA, color: BLACK, kind: "traj", letter: "A", lx: 12},
  {row: "aTraj", left: 356, right: 563, data: trajA1, color: BLACK, kind: "traj", letter: "A1", lx: 287},
  {row: "aTraj", left: 623, right: 830, data: trajA2, color: BLACK, kind: "traj", letter: "A2", lx: 557},
  {row: "aTraj", left: 890, right: 1097, data: trajA3, color: BLACK, kind: "traj", letter: "A3", lx: 823},
  {row: "aTime", left: 68, right: 277, data: [timeA], color: "#2a2a2a", kind: "time"},
  {row: "aTime", left: 356, right: 563, data: [timeA1], color: "#2a2a2a", kind: "time"},
  {row: "aTime", left: 622, right: 829, data: [timeA2], color: "#2a2a2a", kind: "time"},
  {row: "aTime", left: 890, right: 1097, data: [timeA3], color: "#2a2a2a", kind: "time"},
  {row: "bTraj", left: 71, right: 278, data: trajB, color: RED, kind: "traj", letter: "B", lx: 14},
  {row: "bTraj", left: 348, right: 550, data: trajB1, color: RED, kind: "traj", letter: "B1", lx: 283},
  {row: "bTraj", left: 626, right: 825, data: trajB2, color: RED, kind: "traj", letter: "B2", lx: 553},
  {row: "bTraj", left: 893, right: 1097, data: trajB3, color: RED, kind: "traj", letter: "B3", lx: 825},
  {row: "bTime", left: 71, right: 278, data: [timeB], color: RED, kind: "time"},
  {row: "bTime", left: 349, right: 556, data: [timeB1], color: RED, kind: "time"},
  {row: "bTime", left: 626, right: 830, data: [timeB2], color: RED, kind: "time"},
  {row: "bTime", left: 892, right: 1097, data: [timeB3], color: RED, kind: "time"}
];

const axisSpec = {
  aTraj: {xDom: [0, 1.05], yDom: [0, 1.75], xT: aTrajXTicks, xL: aTrajXLabels, yT: aTrajYTicks, yL: aTrajYLabels, xTitle: "x (mm)", yTitle: "y (mm)"},
  aTime: {xDom: [0, 2], yDom: [0, 1.05], xT: timeTicks, xL: timeLabels, yT: aTimeYTicks, yL: aTimeYLabels, xTitle: "Time (s)", yTitle: "x (mm)"},
  bTraj: {xDom: [0, 1.12], yDom: [0, 1.24], xT: bTrajXTicks, xL: bTrajXLabels, yT: bTrajYTicks, yL: bTrajYLabels, xTitle: "x (mm)", yTitle: "y (mm)"},
  bTime: {xDom: [0, 2], yDom: [0, 1.12], xT: timeTicks, xL: timeLabels, yT: bTimeYTicks, yL: bTimeYLabels, xTitle: "Time (s)", yTitle: "x (mm)"}
};

const svg = d3.select("#fig");

function drawPanel(p) {
  const r = rows[p.row], a = axisSpec[p.row];
  const g = svg.append("g");

  const x = d3.scaleLinear().domain(a.xDom).range([p.left, p.right]);
  const y = d3.scaleLinear().domain(a.yDom).range([r.bottom, r.top]);

  const line = d3.line()
      .x(d => x(d[0]))
      .y(d => y(d[1]))
      .curve(d3.curveLinear);

  const isRed = p.color === RED;
  g.append("g").selectAll("path")
      .data(p.data)
    .join("path")
      .attr("d", line)
      .attr("fill", "none")
      .attr("stroke", p.color)
      .attr("stroke-width", p.kind === "time" && !isRed ? 1.2 : 1)
      .attr("stroke-opacity", isRed ? 0.8 : 0.78)
      .attr("stroke-linejoin", "round");

  // axes, ticks point inward like the original
  const xAxis = d3.axisBottom(x)
      .tickValues(a.xT)
      .tickFormat((d, i) => a.xL[i])
      .tickSize(-4)
      .tickSizeOuter(0);
  const yAxis = d3.axisLeft(y)
      .tickValues(a.yT)
      .tickFormat((d, i) => a.yL[i])
      .tickSize(-4)
      .tickSizeOuter(0)
      .tickPadding(r.pad);

  const xg = g.append("g").attr("class", "axis")
      .attr("transform", `translate(0,${r.bottom})`)
      .call(xAxis);
  xg.selectAll("text")
      .attr("y", r.tickBase)
      .attr("dy", null)
      .style("font-size", r.fs + "px");

  const yg = g.append("g").attr("class", "axis")
      .attr("transform", `translate(${p.left},0)`)
      .call(yAxis);
  yg.selectAll("text").style("font-size", r.fs + "px");

  g.append("text")
      .attr("x", (p.left + p.right) / 2)
      .attr("y", r.bottom + r.titleBase)
      .attr("text-anchor", "middle")
      .style("font-size", a.xTitle === "Time (s)" ? "14px" : "16px")
      .text(a.xTitle);

  g.append("text")
      .attr("transform", `translate(${p.left - r.yTitleOff},${(r.top + r.bottom) / 2}) rotate(-90)`)
      .attr("text-anchor", "middle")
      .style("font-size", "16px")
      .text(a.yTitle);

  if (p.letter) {
    g.append("text")
        .attr("x", p.lx)
        .attr("y", p.row === "aTraj" ? 28 : 410)
        .style("font-size", "23px")
        .text(p.letter);
  }
}

panels.forEach(drawPanel);
</script>
</body>
</html>
